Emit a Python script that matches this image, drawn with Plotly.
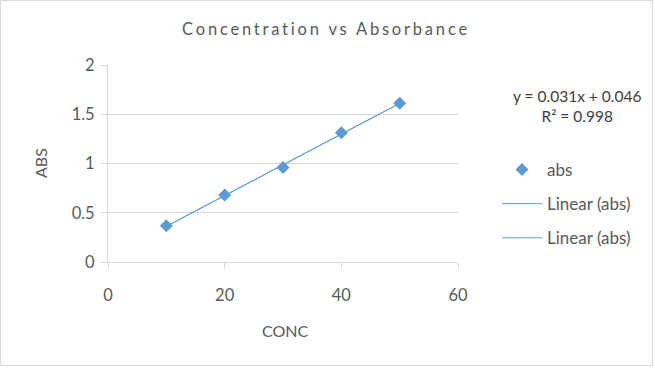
import plotly.graph_objects as go

conc = [10, 20, 30, 40, 50]
absv = [0.367, 0.680, 0.960, 1.313, 1.611]
slope = 0.031
intercept = 0.046
r_squared = 0.998
x_ticks = [0, 20, 40, 60]
y_ticks = [0, 0.5, 1, 1.5, 2]
y_tick_labels = ["0", "0.5", "1", "1.5", "2"]

W, H = 655, 368
L, R, T, B = 108, 458, 65, 262
pw, ph = R - L, B - T

def px(xp):
    return (xp - L) / pw

def py(yp):
    return (B - yp) / ph

FONT = "Lato, Open Sans, sans-serif"
BLUE = "#5b9bd5"
GRID = "#d9d9d9"
TXT = "#595959"

# linear fit from the data (trendline)
n = len(conc)
mx = sum(conc) / n
my = sum(absv) / n
b1 = sum((x - mx) * (y - my) for x, y in zip(conc, absv)) / sum((x - mx) ** 2 for x in conc)
b0 = my - b1 * mx
tx = [min(conc), max(conc)]
ty = [b0 + b1 * v for v in tx]

fig = go.Figure()
fig.add_trace(go.Scatter(x=conc, y=absv, mode="markers", name="abs",
                         marker=dict(symbol="diamond", size=10, color=BLUE),
                         legendgroup="a"))
fig.add_trace(go.Scatter(x=tx, y=ty, mode="lines", name="Linear (abs)",
                         line=dict(color=BLUE, width=1), legendgroup="b"))
fig.add_trace(go.Scatter(x=tx, y=ty, mode="lines", name="Linear (abs)",
                         line=dict(color=BLUE, width=1), legendgroup="c"))

fig.update_layout(
    width=W, height=H,
    margin=dict(l=L, r=W - R, t=T, b=H - B, pad=0),
    paper_bgcolor="white", plot_bgcolor="white",
    font=dict(family=FONT, size=16, color=TXT),
    title=dict(text="Concentration vs Absorbance", x=(180 + 472) / 2 / W, xanchor="center",
               y=1 - 29 / H, yanchor="middle",
               font=dict(family=FONT, size=16.5, color=TXT)),
    xaxis=dict(range=[0, 60], tickvals=x_ticks, ticktext=[str(v) for v in x_ticks],
               showgrid=False, zeroline=False, showline=True, linecolor=GRID, linewidth=1,
               ticks="outside", ticklen=6, tickcolor=GRID, ticklabelstandoff=12,
               tickfont=dict(size=16.5, color=TXT)),
    yaxis=dict(range=[0, 2], tickvals=y_ticks, ticktext=y_tick_labels,
               showgrid=True, gridcolor=GRID, gridwidth=1, zeroline=False,
               showline=True, linecolor=GRID, linewidth=1,
               ticks="outside", ticklen=6, tickcolor=GRID, ticklabelstandoff=3,
               tickfont=dict(size=16.5, color=TXT)),
    legend=dict(x=px(497), y=py(152), xanchor="left", yanchor="top",
                font=dict(size=17, color=TXT), traceorder="grouped", tracegroupgap=9,
                bgcolor="rgba(0,0,0,0)", itemwidth=40),
    showlegend=True,
    shapes=[dict(type="rect", xref="paper", yref="paper",
                 x0=px(0.5), x1=px(W - 2.5), y0=py(H - 2.5), y1=py(0.5),
                 line=dict(color=GRID, width=1), fillcolor="rgba(0,0,0,0)", layer="below")],
    annotations=[
        dict(text="ABS", xref="paper", yref="paper", x=px(40), y=py(163),
             showarrow=False, textangle=-90, font=dict(size=16, color=TXT),
             xanchor="center", yanchor="middle"),
        dict(text="CONC", xref="paper", yref="paper", x=px(285), y=py(330),
             showarrow=False, font=dict(size=16, color=TXT),
             xanchor="center", yanchor="middle"),
        dict(text=f"y = {slope:.3f}x + {intercept:.3f}<br>R² = {r_squared:.3f}", xref="paper", yref="paper",
             x=px(577), y=py(106), showarrow=False, align="center",
             font=dict(size=15.5, color="#404040"), xanchor="center", yanchor="middle"),
    ],
)

post = """
document.body.style.margin='0';
document.body.style.overflow='hidden';
document.querySelectorAll('.gtitle').forEach(function(e){e.style.letterSpacing='2.8px';});
"""
fig.write_html("out.html", post_script=post, config={"displayModeBar": False})
